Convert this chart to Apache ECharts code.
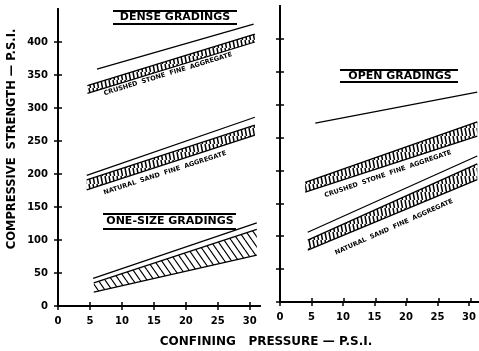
<!DOCTYPE html>
<html><head><meta charset="utf-8">
<script src="https://cdn.jsdelivr.net/npm/echarts@6/dist/echarts.min.js"></script>
<style>html,body{margin:0;padding:0;background:#fff}#c{width:479px;height:351px}</style>
</head><body><div id="c"></div>
<script>
// ---- data (confining pressure psi, compressive strength psi) ----
var xTicks = [0, 5, 10, 15, 20, 25, 30];
var yTicks = [0, 50, 100, 150, 200, 250, 300, 350, 400];

// Left panel
var denseUpperLine = [[6.1, 359], [30.6, 427]];
var denseCrushedLow = [[4.6, 322], [30.8, 400]];
var denseCrushedHigh = [[4.6, 334], [30.8, 412]];
var denseSandLine = [[4.5, 198], [30.8, 286]];
var denseSandLow = [[4.5, 176], [30.8, 259]];
var denseSandHigh = [[4.5, 191], [30.8, 274]];
var oneSizeLine = [[5.5, 42], [31.1, 126]];
var oneSizeLow = [[5.6, 21], [31.1, 77]];
var oneSizeHigh = [[5.6, 35], [31.1, 116]];

// Right panel
var openLine = [[5.6, 272], [31.3, 319]];
var openCrushedLow = [[4.0, 167], [31.3, 252]];
var openCrushedHigh = [[4.0, 182], [31.3, 274]];
var openSandLine = [[4.4, 106], [31.3, 222]];
var openSandLow = [[4.4, 79], [31.3, 186]];
var openSandHigh = [[4.4, 94], [31.3, 210]];

var FONT = '"DejaVu Sans", "Liberation Sans", sans-serif';

function hatch(w, h, drawFn) {
  var c = document.createElement('canvas');
  c.width = w; c.height = h;
  var g = c.getContext('2d');
  g.fillStyle = '#fff'; g.fillRect(0, 0, w, h);
  g.strokeStyle = '#000';
  drawFn(g, w, h);
  return c;
}
var ladder = hatch(4, 8, function (g, w, h) {
  g.lineWidth = 1.5;
  g.beginPath();
  for (var k = -1; k <= 1; k++) { g.moveTo(1 + k * w, 0); g.lineTo(2.5 + k * w, h); }
  g.stroke();
});
var diag = hatch(7, 10, function (g, w, h) {
  g.lineWidth = 1.2;
  g.beginPath();
  for (var k = -1; k <= 1; k++) { g.moveTo(k * w, 0); g.lineTo(k * w + w, h); }
  g.stroke();
});

function lineSeries(data, idx) {
  return { type: 'line', xAxisIndex: idx, yAxisIndex: idx, data: data, symbol: 'none', silent: true,
    lineStyle: { color: '#000', width: 1.3 } };
}
function band(low, high, idx, pattern) {
  var row = [low[0][0], low[0][1], high[0][1], low[1][0], low[1][1], high[1][1]];
  return {
    type: 'custom', xAxisIndex: idx, yAxisIndex: idx, silent: true,
    data: [row],
    encode: { x: [0, 3], y: [1, 2, 4, 5] },
    renderItem: function (params, api) {
      var a = api.coord([api.value(0), api.value(1)]);
      var b = api.coord([api.value(3), api.value(4)]);
      var c = api.coord([api.value(3), api.value(5)]);
      var d = api.coord([api.value(0), api.value(2)]);
      return { type: 'group', children: [
        { type: 'polygon', shape: { points: [a, b, c, d] }, style: { fill: { image: pattern, repeat: 'repeat' }, stroke: null } },
        { type: 'line', shape: { x1: a[0], y1: a[1], x2: b[0], y2: b[1] }, style: { stroke: '#000', lineWidth: 1.3 } },
        { type: 'line', shape: { x1: d[0], y1: d[1], x2: c[0], y2: c[1] }, style: { stroke: '#000', lineWidth: 1.3 } }
      ] };
    }
  };
}

function xAx(grid, max, showLabel, inside) {
  return { type: 'value', gridIndex: grid, min: 0, max: max, interval: 5, position: 'bottom',
    axisLine: { show: true, lineStyle: { color: '#000', width: 2 } },
    axisTick: { show: true, inside: inside, length: 4, customValues: xTicks, lineStyle: { color: '#000', width: 1.5 } },
    axisLabel: { show: showLabel, customValues: xTicks, margin: 10, color: '#000', fontFamily: FONT, fontWeight: 'bold', fontSize: 10 },
    splitLine: { show: false } };
}
function yAx(grid, showLabel, inside) {
  return { type: 'value', gridIndex: grid, min: 0, max: 450, interval: 50, position: 'left',
    axisLine: { show: true, lineStyle: { color: '#000', width: 2 } },
    axisTick: { show: true, inside: inside, length: 4, customValues: yTicks, lineStyle: { color: '#000', width: 1.5 } },
    axisLabel: { show: showLabel, customValues: yTicks, margin: 10, color: '#000', fontFamily: FONT, fontWeight: 'bold', fontSize: 10 },
    splitLine: { show: false } };
}

var series = [
  lineSeries(denseUpperLine, 0),
  band(denseCrushedLow, denseCrushedHigh, 0, ladder),
  lineSeries(denseSandLine, 0),
  band(denseSandLow, denseSandHigh, 0, ladder),
  lineSeries(oneSizeLine, 0),
  band(oneSizeLow, oneSizeHigh, 0, diag),
  lineSeries(openLine, 2),
  band(openCrushedLow, openCrushedHigh, 2, ladder),
  lineSeries(openSandLine, 2),
  band(openSandLow, openSandHigh, 2, ladder)
];

function txt(t, x, y, size, rotDeg, align) {
  return { type: 'text', x: x, y: y, rotation: (rotDeg || 0) * Math.PI / 180, silent: true,
    style: { text: t, fill: '#000', font: 'bold ' + size + 'px ' + FONT, textAlign: align || 'center', textVerticalAlign: 'middle' } };
}
function hline(x1, x2, y) {
  return { type: 'line', silent: true, shape: { x1: x1, y1: y, x2: x2, y2: y }, style: { stroke: '#000', lineWidth: 1.8 } };
}

var chart = echarts.init(document.getElementById('c'), null, { renderer: 'canvas' });
chart.setOption({
  animation: false,
  backgroundColor: '#fff',
  grid: [
    { left: 58, top: 9, width: 202, height: 297 },
    { left: 58, top: 9, width: 202, height: 297 },
    { left: 280, top: 6, width: 199, height: 296 },
    { left: 280, top: 6, width: 199, height: 296 }
  ],
  xAxis: [xAx(0, 31.6, true, false), xAx(1, 31.6, false, true), xAx(2, 31.3, true, false), xAx(3, 31.3, false, true)],
  yAxis: [yAx(0, true, false), yAx(1, false, true), yAx(2, false, false), yAx(3, false, true)],
  series: series,
  graphic: [
    hline(113, 237, 11), hline(113, 237, 24), txt('DENSE GRADINGS', 175, 17.5, 11),
    hline(103, 236, 214), hline(103, 236, 229), txt('ONE-SIZE GRADINGS', 170, 221.5, 11),
    hline(340, 458, 70), hline(340, 458, 82), txt('OPEN GRADINGS', 400, 76, 11),
    txt('CRUSHED  STONE  FINE  AGGREGATE', 168, 74, 6.5, 17),
    txt('NATURAL  SAND  FINE  AGGREGATE', 165, 173, 6.5, 18),
    txt('CRUSHED  STONE  FINE  AGGREGATE', 388, 174, 6.5, 19),
    txt('NATURAL  SAND  FINE  AGGREGATE', 394, 227, 6.5, 24),
    txt('COMPRESSIVE  STRENGTH — P.S.I.', 12, 139, 11.5, 90),
    txt('CONFINING   PRESSURE — P.S.I.', 266, 342, 12)
  ]
});
</script></body></html>
